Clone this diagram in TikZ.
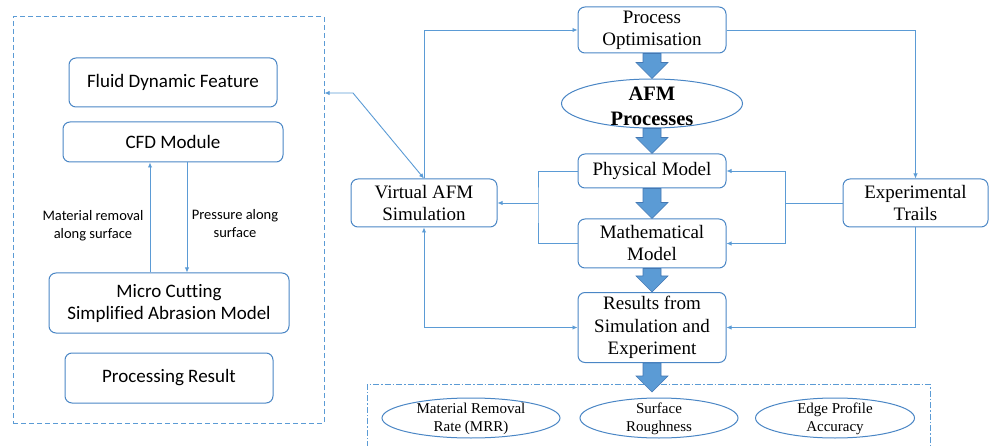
\documentclass[tikz,border=0pt]{standalone}
\usepackage{fontspec}
\setmainfont{Liberation Serif}
\newfontfamily\calib[Ligatures=NoCommon]{Carlito}
\usetikzlibrary{arrows.meta,shapes.geometric,calc}
\definecolor{lineblue}{HTML}{5B9BD5}
\definecolor{borderblue}{HTML}{4A86C5}
\definecolor{fatblue}{HTML}{5B9BD5}
\definecolor{fatedge}{HTML}{4478B3}
\newcommand\fatarr[2]{\filldraw[fatarrow] ($(#1)+(-9,0)$) -- ($(#2)+(-9,-16)$) -- ($(#2)+(-16,-16)$) -- (#2) -- ($(#2)+(16,-16)$) -- ($(#2)+(9,-16)$) -- ($(#1)+(9,0)$) -- cycle;}
\begin{document}
\begin{tikzpicture}[x=1pt,y=-1pt,
  lbox/.style={draw=borderblue, line width=1pt, rounded corners=7pt, inner sep=0pt, align=center, font=\calib\fontsize{19}{22}\selectfont},
  rbox/.style={draw=borderblue, line width=1pt, rounded corners=7pt, inner sep=0pt, align=center, font=\fontsize{19}{22}\selectfont},
  oval/.style={draw=borderblue, line width=1pt, ellipse, inner sep=0pt},
  ovaltext/.style={inner sep=0pt, align=center, font=\fontsize{15}{18}\selectfont},
  conn/.style={draw=lineblue, line width=0.9pt, -{Latex[length=5pt,width=4.5pt]}},
  both/.style={draw=lineblue, line width=0.9pt, {Latex[length=5pt,width=4.5pt]}-{Latex[length=5pt,width=4.5pt]}},
  plain/.style={draw=lineblue, line width=0.9pt},
  fatarrow/.style={fill=fatblue, draw=fatedge, line width=0.6pt},
  lbl/.style={font=\calib\fontsize{14.5}{18}\selectfont, align=center, inner sep=0pt}]
\useasboundingbox (0,0) rectangle (990,446);

% left dashed frame
\node[draw=lineblue, line width=1pt, dash pattern=on 5pt off 3pt, minimum width=311pt, minimum height=406pt, inner sep=0pt] (leftbox) at (168.5,220) {};

\node[lbox, minimum width=208pt, minimum height=49pt] (fdf) at (173,82.5) {Fluid Dynamic Feature};
\node[lbox, minimum width=220pt, minimum height=40pt] (cfd) at (173,142) {CFD Module};
\node[lbox, minimum width=240pt, minimum height=60pt] (mc) at (169,303) {Micro Cutting\\Simplified Abrasion Model};
\node[lbox, minimum width=208pt, minimum height=50pt] (pr) at (169,378) {Processing Result};

\coordinate (ux) at (150,0);
\coordinate (dx) at (187,0);
\draw[conn] (mc.north -| ux) -- (cfd.south -| ux);
\draw[conn] (cfd.south -| dx) -- (mc.north -| dx);
\node[lbl] (lab1) at (93,226) {Material removal\\along surface};
\node[lbl] (lab2) at (235,224) {Pressure along\\surface};

% right part
\node[rbox, minimum width=148pt, minimum height=46pt] (po) at (652,30) {Process\\Optimisation};
\node[oval, minimum width=181pt, minimum height=49pt] (afm) at (652,103.5) {};
\node[inner sep=0pt, align=center, font=\bfseries\fontsize{20.5}{25}\selectfont] (afmtext) at (652,106) {AFM\\Processes};
\node[rbox, minimum width=148pt, minimum height=34pt] (pm) at (652,171) {Physical Model};
\node[rbox, minimum width=148pt, minimum height=49pt] (mm) at (652,243.5) {Mathematical\\Model};
\node[rbox, minimum width=148pt, minimum height=70pt, font=\fontsize{19}{22.5}\selectfont] (res) at (652,327.5) {Results from\\Simulation and\\Experiment};
\node[rbox, minimum width=146pt, minimum height=48pt] (vafm) at (424,203) {Virtual AFM\\Simulation};
\node[rbox, minimum width=145pt, minimum height=48pt] (exp) at (915.5,203) {Experimental\\Trails};

% bottom dash-dotted frame
\draw[lineblue, line width=0.9pt, dash pattern=on 6pt off 2pt on 1.5pt off 2pt] (367,447) -- (367,384) -- (930,384) -- (930,447);
\node[oval, minimum width=178pt, minimum height=40pt] (mrr) at (471,418) {};
\node[ovaltext] (mrrt) at (471,419) {Material Removal\\Rate (MRR)};
\node[oval, minimum width=158pt, minimum height=40pt] (sr) at (659,418) {};
\node[ovaltext] (srt) at (659,419) {Surface\\Roughness};
\node[oval, minimum width=159pt, minimum height=40pt] (epa) at (835,418) {};
\node[ovaltext] (epat) at (835,419) {Edge Profile\\Accuracy};

% connectors
\coordinate (bend1) at (353,93);
\draw[both] (leftbox.east |- bend1) -- (bend1) -- (vafm.north);
\draw[conn] (vafm.north) |- (po.west);
\draw[conn] (po.east) -| (exp.north);
\coordinate (jr) at (785,203);
\draw[plain] (exp.west) -- (jr);
\draw[conn] (jr) |- (pm.east);
\draw[conn] (jr) |- (mm.east);
\draw[conn] (exp.south) |- (res.east);
\coordinate (jl) at (538,203);
\draw[plain] (pm.west) -| (jl) |- (mm.west);
\draw[conn] (jl) -- (vafm.east);
\draw[both] (vafm.south) |- (res.west);

% fat arrows
\fatarr{po.south}{afm.north}
\fatarr{afm.south}{pm.north}
\fatarr{pm.south}{mm.north}
\fatarr{mm.south}{res.north}
\coordinate (btip) at (652,392);
\fatarr{res.south}{btip}
\end{tikzpicture}
\end{document}
